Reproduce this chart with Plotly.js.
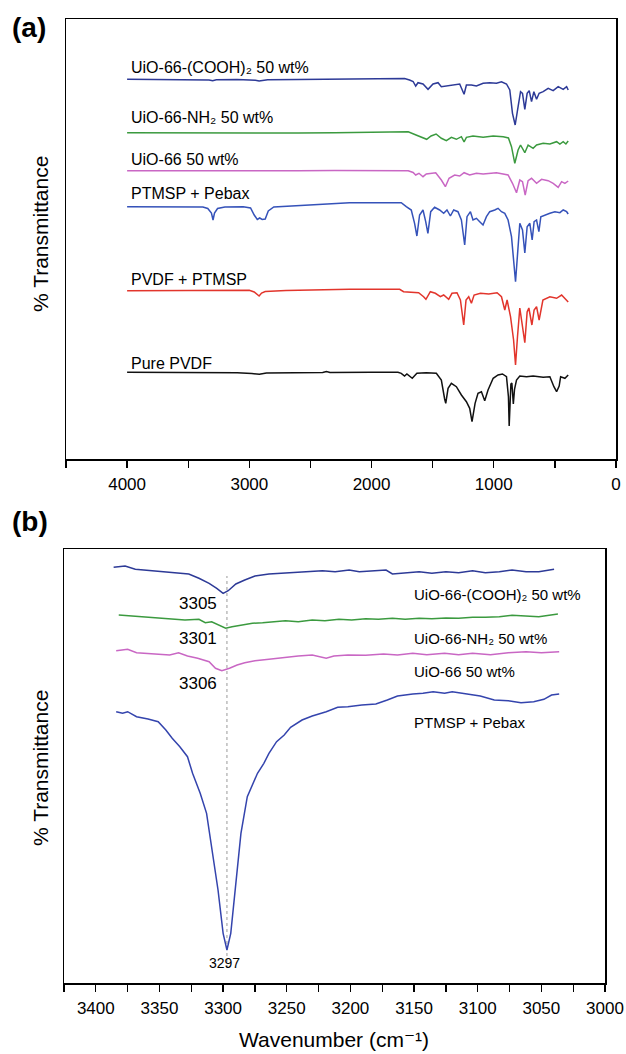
<!DOCTYPE html>
<html><head><meta charset="utf-8">
<script src="https://cdn.plot.ly/plotly-3.0.1.min.js"></script>
<style>html,body{margin:0;padding:0;background:#fff}#chart{width:626px;height:1054px}</style>
</head><body><div id="chart"></div>
<script>
// ---------- Panel (a): full FTIR spectra (wavenumber cm-1, offset transmittance a.u.) ----------
var aCoohWn = [4000,3800,3600,3400,3330,3300,3270,3100,3000,2950,2920,2880,2850,2600,2300,2000,1800,1730,1689,1660,1639,1620,1579,1538,1497,1456,1429,1388,1333,1279,1243,1224,1183,1142,1087,1033,978,937,896,869,847,825,801,781,765,746,727,710,691,672,650,629,596,555,514,473,432,404,391];
var aCoohT  = [379.7,379.5,379.8,379.3,379,378.2,379.2,379.4,379.2,378.8,378,378.6,379.2,379.6,380,380.4,381,380.5,379,377.5,373,376.3,375,369.7,375,376.3,372.3,373,374,375,364.7,374,374,373,375.7,376.3,375.7,377.3,375,369,345.7,334,352.3,367.3,365.7,349.7,365.7,368.3,357.3,367.3,359.7,365.7,367.3,370.7,368.3,372.3,369.7,372.3,369];

var aNh2Wn = [4000,3700,3400,3300,3000,2900,2600,2300,2000,1800,1700,1636,1595,1549,1513,1472,1429,1388,1347,1306,1265,1243,1224,1170,1087,1005,923,880,855,828,801,781,746,719,678,650,596,541,486,459,432,410,391];
var aNh2T  = [326.3,326.2,326,325.6,325.7,325.4,326,326.3,326.7,327,327.3,324,322.3,319.7,323,325,320.7,318.3,321.7,319.7,322.3,317,321.7,323,321.7,323,322.3,321,312.3,295.7,309,314,306.3,314,310.7,314,315.7,315,317.3,315,317.3,315,318];

var aUioWn = [4000,3700,3400,3000,2600,2300,2000,1700,1660,1639,1612,1579,1552,1511,1475,1429,1396,1366,1320,1279,1243,1197,1142,1087,1033,978,924,883,847,814,787,765,743,719,691,650,609,555,514,473,445,418,391];
var aUioT  = [288.3,288.2,288,287.8,288.2,288.5,288.7,288.3,286.5,284,285.7,282.3,285,285.7,286.3,279,272.3,280.7,284,283,286.3,284,285.7,285,285.7,286.3,285,284,275.7,266.3,279,277.3,264,278.3,280.7,275.7,279.7,278.3,275.7,271.7,277.3,275.7,278];

var aPebaxWn = [4000,3700,3450,3380,3340,3310,3297,3285,3260,3200,3050,2990,2960,2935,2915,2895,2870,2845,2800,2500,2180,1900,1757,1716,1675,1648,1629,1607,1579,1557,1539,1516,1484,1443,1410,1383,1355,1328,1293,1265,1238,1219,1191,1170,1142,1115,1088,1060,1033,992,965,937,910,883,855,822,806,787,765,746,727,705,686,670,650,631,615,582,541,500,459,432,404,391];
var aPebaxT  = [252.3,252.3,252.1,252,250.5,246,239,246,250.5,252,252.3,251,244,239.5,241,239.5,240,248,252,254,256.3,256.3,256.3,252.3,249,235.7,223,244,249,237.3,225.7,247.3,251.7,249,245.7,249,243,249,247.3,239,214,242.3,247.3,239,240.7,237.3,234,242.3,247.3,249,250.7,247.3,245.7,239,222.3,177.3,209,235.7,229,206,232.3,235.7,219,237.3,239,227.3,242.3,244,245.7,247.3,246.3,249,247.3,245];

var aPvdfPtmspWn = [4000,3600,3300,3000,2960,2940,2920,2900,2870,2700,2500,2180,1900,1770,1738,1615,1574,1555,1519,1478,1437,1410,1369,1342,1301,1273,1246,1227,1205,1183,1161,1109,1041,973,937,910,891,863,838,822,806,787,746,727,713,688,670,650,629,598,541,486,445,400,391];
var aPvdfPtmspT  = [168.3,168.5,168.6,168.7,167,165,163,166,167.5,168.5,169,169.7,169.7,169.7,167.3,166.3,162.3,159.7,167.3,165.7,162.3,164,159.7,165.7,166.3,159,134,159,162.3,155.7,164,165.7,165,166.3,162.3,149,159,142.3,119,94,122.3,151,116.3,147,151,134,149,152.3,139,159,162.3,160.7,164,157.3,157];

var aPvdfWn = [4000,3700,3400,3100,2980,2918,2860,2600,2400,2369,2340,2000,1784,1757,1730,1711,1667,1629,1552,1470,1429,1402,1393,1374,1347,1306,1265,1224,1197,1178,1153,1129,1101,1074,1047,1005,965,929,896,880,874,860,852,840,830,814,787,732,678,596,541,508,486,465,453,418,391];
var aPvdfT  = [86.7,86.5,86.6,86.3,85.5,84.7,86,86.5,86.6,87.5,86.5,86.7,86.7,85.7,83,85,80.7,85.7,86.3,85.7,79,60,55.7,70.7,75.7,72.3,64,57.3,50.7,37.3,55.7,65.7,67.3,58.3,69,80.7,84,85,82.3,62.3,33,75,76,55,70,79,83,82.3,83,81.7,82.3,72.3,67.3,73,82.3,80.7,84];

var aNames = ["UiO-66-(COOH)\u2082 50 wt%","UiO-66-NH\u2082 50 wt%","UiO-66 50 wt%","PTMSP + Pebax","PVDF + PTMSP","Pure PVDF"];
var aTickVals = [0,1000,2000,3000,4000];
var aTickText = ["0","1000","2000","3000","4000"];
var aMinorTickVals = [500,1500,2500,3500,4500];

// ---------- Panel (b): O-H / N-H region ----------
var bCoohWn = [3386,3377,3369,3358,3348,3338,3327,3319,3311,3305,3300,3296,3290,3283,3275,3264,3254,3243,3233,3222,3212,3201,3193,3183,3172,3167,3157,3146,3136,3125,3115,3104,3094,3083,3073,3062,3052,3040];
var bCoohT  = [415.7,417,413.7,412.3,411.3,410.3,409,404.7,399.7,394.7,389.7,392.3,399,403,407,409,409.7,410.3,411.3,412.3,411.3,413,411.3,412.3,413,409,410.3,411.3,409.7,411.3,410.3,412.3,410.3,411.3,413,411.3,411.3,413.7];

var bNh2Wn = [3382,3372,3361,3351,3340,3330,3319,3314,3309,3302,3298,3293,3285,3277,3269,3261,3251,3241,3230,3220,3209,3199,3188,3178,3167,3157,3146,3136,3125,3115,3104,3094,3083,3073,3062,3052,3037];
var bNh2T  = [368,367,365.7,364.7,363.7,363,363.7,360.3,361.3,357,354.7,356.3,358,359.7,360.3,361.3,362.3,361.3,363,362.3,363.7,363,364.3,363.7,364.7,363.7,364.7,364.3,365,364.7,365.7,365.7,366.3,367.7,367,366.3,369];

var bUioWn = [3384,3375,3368,3354,3342,3335,3328,3320,3311,3306,3301,3295,3289,3283,3275,3264,3252,3241,3230,3219,3213,3202,3188,3174,3163,3151,3140,3126,3115,3104,3090,3076,3062,3050,3036];
var bUioT  = [332.3,333.7,330.3,329,328,330.3,327,324.7,321.3,314.7,312.3,314.7,318,320.3,322.3,323.7,325.7,327,328,324.7,327,328,327.7,329,328,329.7,328.3,329.7,328.3,329.7,328.3,330.3,331.3,330.3,331.3];

var bPebaxWn = [3384,3379,3375,3368,3359,3351,3345,3340,3334,3328,3324,3318,3313,3309,3304,3300,3297,3294,3290,3286,3281,3273,3268,3264,3258,3252,3247,3238,3230,3219,3210,3202,3191,3180,3171,3163,3151,3143,3135,3126,3120,3109,3098,3087,3076,3066,3056,3048,3042,3036];
var bPebaxT  = [271.3,269.7,271.3,266.3,264,261.3,253,244.7,236.3,226.3,209.7,189.7,169.7,136.3,93,49.7,33,49.7,103,149.7,186.3,209.7,219.7,229.7,241.3,248,255.7,263,267,271.3,275.7,276.3,278,279,283,287,289,289.7,291.3,289.7,291.3,289,287,283,282.3,280.3,281.3,283.7,288,289];

var bNames = ["UiO-66-(COOH)\u2082 50 wt%","UiO-66-NH\u2082 50 wt%","UiO-66 50 wt%","PTMSP + Pebax"];
var bPeakLabels = ["3305","3301","3306","3297"];
var peakWavenumber = 3297;
var bTickVals = [3000,3050,3100,3150,3200,3250,3300,3350,3400];
var bTickText = ["3000","3050","3100","3150","3200","3250","3300","3350","3400"];
var bMinorTickVals = [3025,3075,3125,3175,3225,3275,3325,3375,3425];
var xTitleB = "Wavenumber (cm\u207B\u00B9)";
var yTitle = "% Transmittance";

// ---------- build ----------
var FONT = "Arial, 'Liberation Sans', 'DejaVu Sans', Helvetica, sans-serif";
var W = 626, H = 1054;
var col = {navy:"#2d3a97", green:"#3b9a3f", magenta:"#c967c4", blue:"#3552b9", red:"#e2352c", black:"#111111", bblue:"#3444ad"};

function tr(x, y, c, xa, ya) {
  return {x:x, y:y, type:"scatter", mode:"lines", line:{color:c, width:1.5}, xaxis:xa, yaxis:ya, hoverinfo:"skip", showlegend:false};
}
var data = [
  tr(aCoohWn, aCoohT, col.navy, "x", "y"),
  tr(aNh2Wn, aNh2T, col.green, "x", "y"),
  tr(aUioWn, aUioT, col.magenta, "x", "y"),
  tr(aPebaxWn, aPebaxT, col.blue, "x", "y"),
  tr(aPvdfPtmspWn, aPvdfPtmspT, col.red, "x", "y"),
  tr(aPvdfWn, aPvdfT, col.black, "x", "y"),
  tr(bCoohWn, bCoohT, col.navy, "x2", "y2"),
  tr(bNh2Wn, bNh2T, col.green, "x2", "y2"),
  tr(bUioWn, bUioT, col.magenta, "x2", "y2"),
  tr(bPebaxWn, bPebaxT, col.bblue, "x2", "y2")
];

function px(v){return v/W;}
function py(v){return 1 - v/H;}

var axBase = {showline:true, linecolor:"#000", linewidth:1.5, mirror:true, showgrid:false, zeroline:false, fixedrange:true};
function xTicks(vals, text, minorVals) {
  return {ticks:"outside", ticklen:7, tickwidth:1.3, tickcolor:"#000", tickmode:"array", tickvals:vals, ticktext:text,
    tickfont:{size:17, family:FONT, color:"#000"}, ticklabelstandoff:2,
    minor:{tickmode:"array", tickvals:minorVals, ticks:"outside", ticklen:7, tickwidth:1.3, tickcolor:"#000", showgrid:false}};
}
var layout = {
  width:W, height:H, margin:{l:0,r:0,t:0,b:0}, paper_bgcolor:"#fff", plot_bgcolor:"#fff",
  font:{family:FONT, color:"#000"}, showlegend:false,
  xaxis: Object.assign({}, axBase, {domain:[px(66), px(616)], range:[4500,0], anchor:"y"}, xTicks(aTickVals, aTickText, aMinorTickVals)),
  yaxis: Object.assign({}, axBase, {domain:[py(459), py(19)], range:[0,440], anchor:"x", ticks:"", showticklabels:false}),
  xaxis2: Object.assign({}, axBase, {domain:[px(64), px(605)], range:[3425,3000], anchor:"y2"}, xTicks(bTickVals, bTickText, bMinorTickVals)),
  yaxis2: Object.assign({}, axBase, {domain:[py(983), py(549)], range:[0,434], anchor:"x2", ticks:"", showticklabels:false}),
  shapes:[{type:"line", xref:"x2", yref:"y2", x0:peakWavenumber, x1:peakWavenumber, y0:15, y1:407,
    line:{color:"#9a9a9a", width:1, dash:"dot"}, layer:"below"}],
  annotations:[]
};
var A = layout.annotations;
function ann(o){ A.push(Object.assign({showarrow:false, font:{family:FONT, size:16, color:"#000"}}, o)); }

ann({text:"<b>(a)</b>", xref:"paper", yref:"paper", x:px(29), y:py(27), xanchor:"center", yanchor:"middle", font:{family:FONT, size:28, color:"#000"}});
ann({text:"<b>(b)</b>", xref:"paper", yref:"paper", x:px(30), y:py(521), xanchor:"center", yanchor:"middle", font:{family:FONT, size:28, color:"#000"}});
ann({text:yTitle, xref:"paper", yref:"paper", x:px(40), y:py(234), textangle:-90, xanchor:"center", yanchor:"middle", font:{family:FONT, size:21, color:"#000"}});
ann({text:yTitle, xref:"paper", yref:"paper", x:px(40), y:py(768), textangle:-90, xanchor:"center", yanchor:"middle", font:{family:FONT, size:21, color:"#000"}});
ann({text:xTitleB, xref:"paper", yref:"paper", x:px(334), y:py(1039), xanchor:"center", yanchor:"middle", font:{family:FONT, size:21, color:"#000"}});

var aLabY = [392, 342, 300, 266, 180, 96];
aNames.forEach(function(t,i){ ann({text:t, xref:"x", yref:"y", x:3984, y:aLabY[i], xanchor:"left", yanchor:"middle", font:{family:FONT, size:16, color:"#000"}}); });
var bLabY = [389, 345, 312, 261];
bNames.forEach(function(t,i){ ann({text:t, xref:"x2", yref:"y2", x:3152, y:bLabY[i], xanchor:"left", yanchor:"middle", font:{family:FONT, size:15, color:"#000"}}); });
var bPkX = [3320, 3320, 3320, 3299], bPkY = [380, 345, 300, 20], bPkS = [17, 17, 17, 14];
bPeakLabels.forEach(function(t,i){ ann({text:t, xref:"x2", yref:"y2", x:bPkX[i], y:bPkY[i], xanchor:"center", yanchor:"middle", font:{family:FONT, size:bPkS[i], color:"#000"}}); });

Plotly.newPlot("chart", data, layout, {staticPlot:true, displayModeBar:false});
</script></body></html>
